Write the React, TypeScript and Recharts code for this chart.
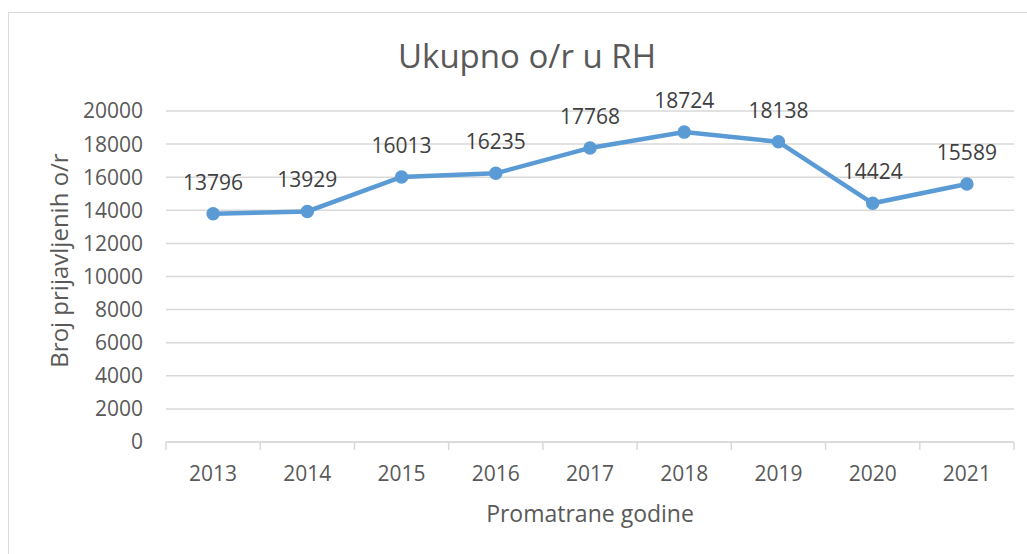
import React from 'react';
import { LineChart, Line, XAxis, YAxis, CartesianGrid, LabelList, Label } from 'recharts';

const years = ['2013', '2014', '2015', '2016', '2017', '2018', '2019', '2020', '2021'];
const values = [13796, 13929, 16013, 16235, 17768, 18724, 18138, 14424, 15589];
const yTicks = [0, 2000, 4000, 6000, 8000, 10000, 12000, 14000, 16000, 18000, 20000];
const title = 'Ukupno o/r u RH';
const xTitle = 'Promatrane godine';
const yTitle = 'Broj prijavljenih o/r';

const data = years.map((year, i) => ({ pos: i + 0.5, year, value: values[i] }));
const xTicks: number[] = [];
for (let i = 0; i <= years.length * 2; i++) xTicks.push(i / 2);

const FONT = '"Open Sans", sans-serif';
const LINE = '#5B9BD5';
const GRID = '#d9d9d9';
const TXT = '#595959';

const XTick = (props: any) => {
  const { x, y, payload } = props;
  const v = payload.value as number;
  if (Number.isInteger(v)) {
    return <line x1={x} x2={x} y1={y} y2={y + 8} stroke={GRID} strokeWidth={1.5} />;
  }
  const idx = Math.floor(v);
  return (
    <text x={x} y={y + 24} dy="0.71em" textAnchor="middle" fill={TXT} fontSize={21} fontFamily={FONT}>
      {years[idx]}
    </text>
  );
};

const YTitle = (props: any) => {
  const vb = props.viewBox || {};
  const cx = (vb.x || 0) + 59;
  const cy = (vb.y || 0) + (vb.height || 0) / 2 - 16;
  return (
    <text
      x={cx}
      y={cy}
      dy="0.36em"
      transform={`rotate(-90, ${cx}, ${cy})`}
      textAnchor="middle"
      fill={TXT}
      fontSize={24}
      fontFamily={FONT}
    >
      {yTitle}
    </text>
  );
};

export default function App() {
  return (
    <div style={{ position: 'fixed', left: 0, top: 0, width: 1027, height: 554, overflow: 'hidden', background: '#fff' }}>
      <div
        style={{
          position: 'absolute',
          left: 8,
          top: 12,
          width: 1100,
          height: 700,
          border: '1.5px solid #d9d9d9',
          boxSizing: 'border-box',
        }}
      />
      <div
        style={{
          position: 'absolute',
          left: 0,
          top: 34,
          width: 1054,
          textAlign: 'center',
          fontFamily: FONT,
          fontSize: 33,
          color: TXT,
          lineHeight: '44px',
        }}
      >
        {title}
      </div>
      <div style={{ position: 'absolute', left: 0, top: 0 }}>
        <LineChart
          width={1027}
          height={554}
          data={data}
          margin={{ top: 111, right: 13, left: 0, bottom: 0 }}
          style={{ fontFamily: FONT }}
        >
          <CartesianGrid vertical={false} stroke={GRID} strokeWidth={1.5} />
          <XAxis
            dataKey="pos"
            type="number"
            domain={[0, years.length]}
            ticks={xTicks}
            interval={0}
            tick={<XTick />}
            tickLine={false}
            tickSize={0}
            tickMargin={0}
            axisLine={{ stroke: GRID, strokeWidth: 1.5 }}
            height={112}
          >
            <Label value={xTitle} position="insideBottom" offset={32} fill={TXT} fontSize={23} fontFamily={FONT} />
          </XAxis>
          <YAxis
            domain={[0, 20000]}
            ticks={yTicks}
            interval={0}
            width={166}
            axisLine={false}
            tickLine={false}
            tickSize={0}
            tickMargin={23}
            tick={{ fill: TXT, fontSize: 21, fontFamily: FONT }}
          >
            <Label content={<YTitle />} />
          </YAxis>
          <Line
            type="linear"
            dataKey="value"
            stroke={LINE}
            strokeWidth={4.5}
            dot={{ r: 6, fill: LINE, stroke: LINE, strokeWidth: 1.5 }}
            isAnimationActive={false}
          >
            <LabelList dataKey="value" position="top" offset={24} fill="#404040" fontSize={21} fontFamily={FONT} />
          </Line>
        </LineChart>
      </div>
    </div>
  );
}
